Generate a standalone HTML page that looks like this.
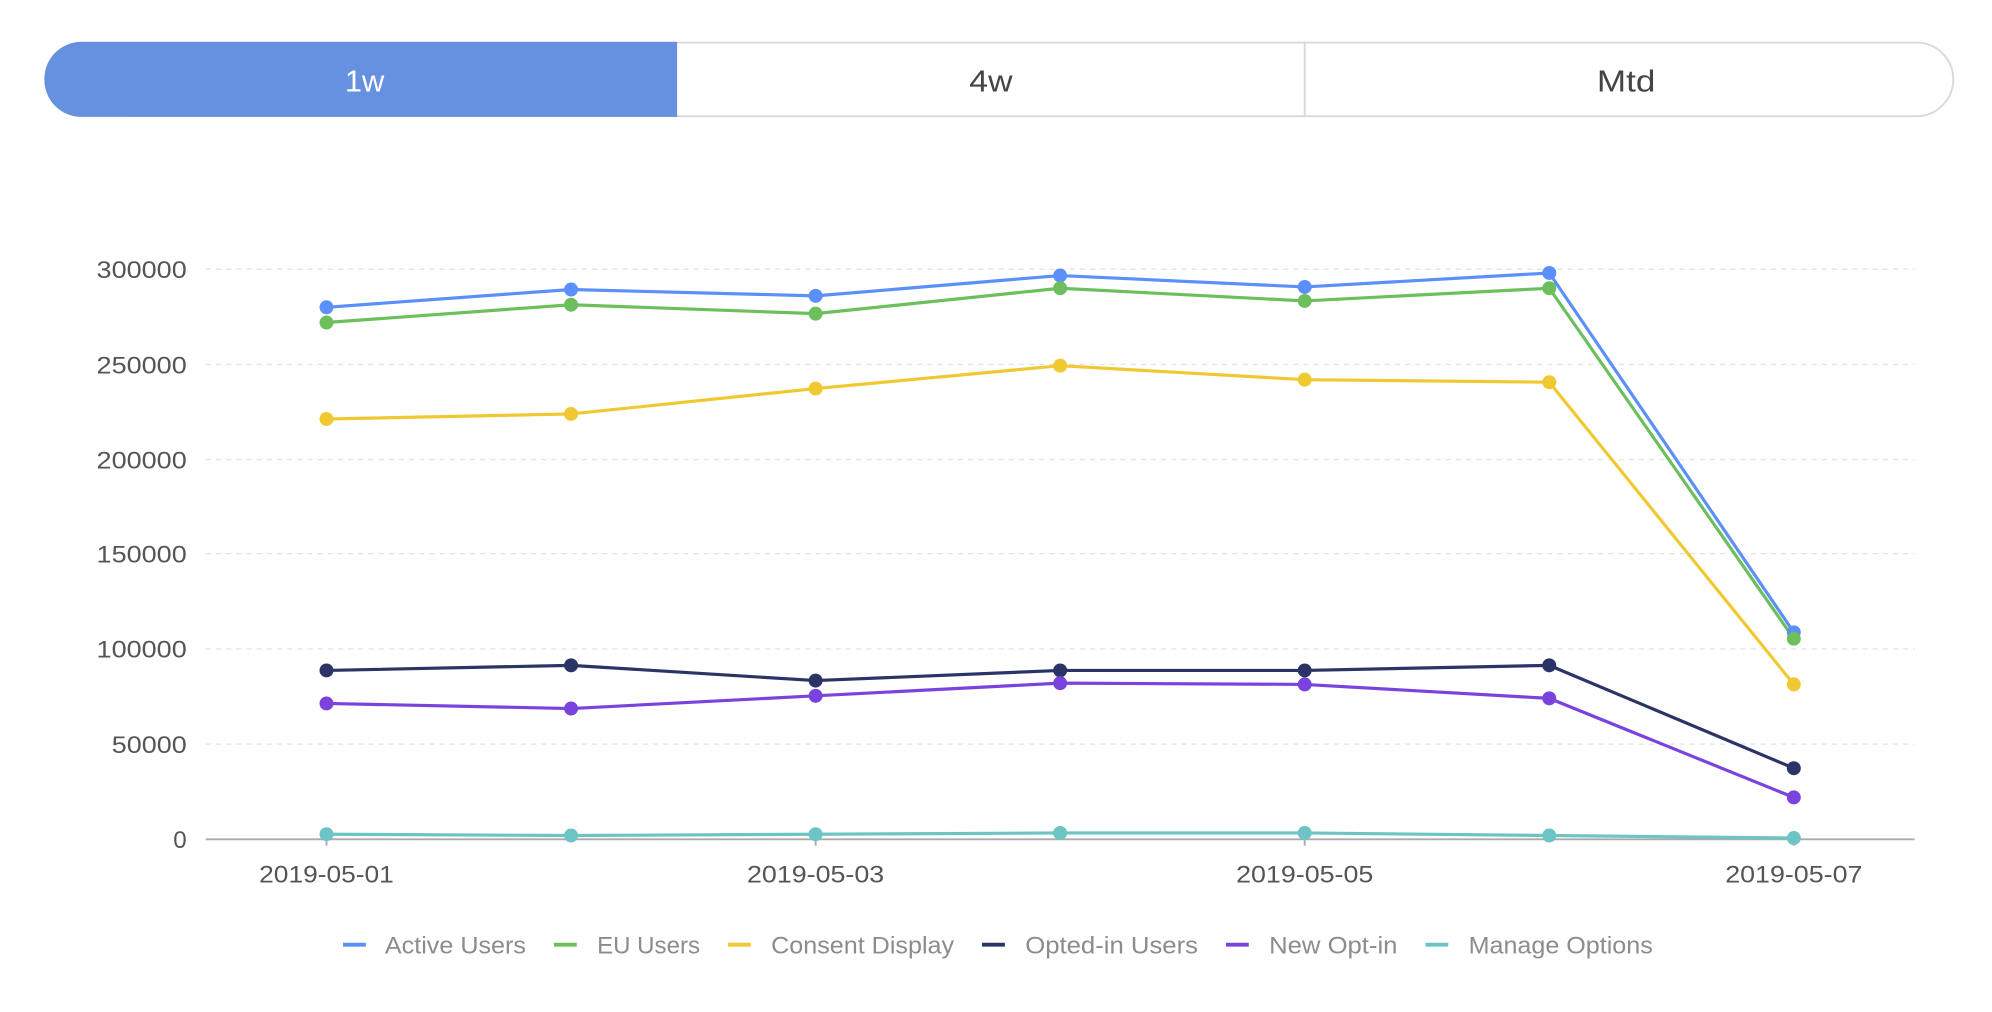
<!DOCTYPE html>
<html><head><meta charset="utf-8"><style>
html,body{margin:0;padding:0;background:#fff;}
svg{display:block;font-family:"Liberation Sans",sans-serif;}
</style></head><body>
<svg width="1992" height="1012" viewBox="0 0 1568 797" preserveAspectRatio="none">
<rect x="0" y="0" width="1568" height="797" fill="#fff"/>
<rect x="35.5" y="33.5" width="1502" height="58" rx="29" fill="#fff" stroke="#d9d9d9" stroke-width="1.5"/>
<path d="M533,33 L64,33 A29,29 0 0 0 35,62 L35,63 A29,29 0 0 0 64,92 L533,92 Z" fill="#6690E0"/>
<line x1="1027" y1="34" x2="1027" y2="91" stroke="#d9d9d9" stroke-width="1.5"/>
<g font-size="24" text-anchor="middle">
<text x="287" y="72" fill="#fff" textLength="31" lengthAdjust="spacingAndGlyphs">1w</text>
<text x="780" y="72" fill="#444" textLength="34" lengthAdjust="spacingAndGlyphs">4w</text>
<text x="1280" y="72" fill="#444" textLength="46" lengthAdjust="spacingAndGlyphs">Mtd</text>
</g>
<g stroke="#e3e3e3" stroke-dasharray="4,4" stroke-width="1">
<line x1="162" y1="212" x2="1507" y2="212"/>
<line x1="162" y1="287" x2="1507" y2="287"/>
<line x1="162" y1="362" x2="1507" y2="362"/>
<line x1="162" y1="436" x2="1507" y2="436"/>
<line x1="162" y1="511" x2="1507" y2="511"/>
<line x1="162" y1="586" x2="1507" y2="586"/>
</g>
<line x1="162" y1="661" x2="1507" y2="661" stroke="#aaa" stroke-width="1.5"/>
<g stroke="#aaa" stroke-width="1.5">
<line x1="257" y1="661" x2="257" y2="666"/><line x1="642" y1="661" x2="642" y2="666"/><line x1="1027" y1="661" x2="1027" y2="666"/><line x1="1412" y1="661" x2="1412" y2="666"/>
</g>
<g font-size="19" fill="#555" text-anchor="end">
<text x="147" y="219" textLength="71" lengthAdjust="spacingAndGlyphs">300000</text>
<text x="147" y="294" textLength="71" lengthAdjust="spacingAndGlyphs">250000</text>
<text x="147" y="369" textLength="71" lengthAdjust="spacingAndGlyphs">200000</text>
<text x="147" y="443" textLength="71" lengthAdjust="spacingAndGlyphs">150000</text>
<text x="147" y="518" textLength="71" lengthAdjust="spacingAndGlyphs">100000</text>
<text x="147" y="593" textLength="59" lengthAdjust="spacingAndGlyphs">50000</text>
<text x="147" y="668">0</text>
</g>
<g font-size="19" fill="#555" text-anchor="middle">
<text x="257" y="695" textLength="106" lengthAdjust="spacingAndGlyphs">2019-05-01</text>
<text x="642" y="695" textLength="108" lengthAdjust="spacingAndGlyphs">2019-05-03</text>
<text x="1027" y="695" textLength="108" lengthAdjust="spacingAndGlyphs">2019-05-05</text>
<text x="1412" y="695" textLength="108" lengthAdjust="spacingAndGlyphs">2019-05-07</text>
</g>
<g fill="none" stroke-width="2.5">
<polyline stroke="#5B8FF9" points="257,242 449.5,228 642,233 834.5,217 1027,226 1219.5,215 1412,498"/>
<polyline stroke="#6CBF5C" points="257,254 449.5,240 642,247 834.5,227 1027,237 1219.5,227 1412,503"/>
<polyline stroke="#F0C932" points="257,330 449.5,326 642,306 834.5,288 1027,299 1219.5,301 1412,539"/>
<polyline stroke="#2A3466" points="257,528 449.5,524 642,536 834.5,528 1027,528 1219.5,524 1412,605"/>
<polyline stroke="#7B43DD" points="257,554 449.5,558 642,548 834.5,538 1027,539 1219.5,550 1412,628"/>
<polyline stroke="#6CC4C4" points="257,657 449.5,658 642,657 834.5,656 1027,656 1219.5,658 1412,660"/>
</g>
<g fill="#5B8FF9"><circle cx="257" cy="242" r="5.5"/><circle cx="449.5" cy="228" r="5.5"/><circle cx="642" cy="233" r="5.5"/><circle cx="834.5" cy="217" r="5.5"/><circle cx="1027" cy="226" r="5.5"/><circle cx="1219.5" cy="215" r="5.5"/><circle cx="1412" cy="498" r="5.5"/></g>
<g fill="#6CBF5C"><circle cx="257" cy="254" r="5.5"/><circle cx="449.5" cy="240" r="5.5"/><circle cx="642" cy="247" r="5.5"/><circle cx="834.5" cy="227" r="5.5"/><circle cx="1027" cy="237" r="5.5"/><circle cx="1219.5" cy="227" r="5.5"/><circle cx="1412" cy="503" r="5.5"/></g>
<g fill="#F0C932"><circle cx="257" cy="330" r="5.5"/><circle cx="449.5" cy="326" r="5.5"/><circle cx="642" cy="306" r="5.5"/><circle cx="834.5" cy="288" r="5.5"/><circle cx="1027" cy="299" r="5.5"/><circle cx="1219.5" cy="301" r="5.5"/><circle cx="1412" cy="539" r="5.5"/></g>
<g fill="#2A3466"><circle cx="257" cy="528" r="5.5"/><circle cx="449.5" cy="524" r="5.5"/><circle cx="642" cy="536" r="5.5"/><circle cx="834.5" cy="528" r="5.5"/><circle cx="1027" cy="528" r="5.5"/><circle cx="1219.5" cy="524" r="5.5"/><circle cx="1412" cy="605" r="5.5"/></g>
<g fill="#7B43DD"><circle cx="257" cy="554" r="5.5"/><circle cx="449.5" cy="558" r="5.5"/><circle cx="642" cy="548" r="5.5"/><circle cx="834.5" cy="538" r="5.5"/><circle cx="1027" cy="539" r="5.5"/><circle cx="1219.5" cy="550" r="5.5"/><circle cx="1412" cy="628" r="5.5"/></g>
<g fill="#6CC4C4"><circle cx="257" cy="657" r="5.5"/><circle cx="449.5" cy="658" r="5.5"/><circle cx="642" cy="657" r="5.5"/><circle cx="834.5" cy="656" r="5.5"/><circle cx="1027" cy="656" r="5.5"/><circle cx="1219.5" cy="658" r="5.5"/><circle cx="1412" cy="660" r="5.5"/></g>
<g stroke-width="3">
<line x1="270" y1="744" x2="288" y2="744" stroke="#5B8FF9"/>
<line x1="436" y1="744" x2="454" y2="744" stroke="#6CBF5C"/>
<line x1="573" y1="744" x2="591" y2="744" stroke="#F0C932"/>
<line x1="773" y1="744" x2="791" y2="744" stroke="#2A3466"/>
<line x1="965" y1="744" x2="983" y2="744" stroke="#7B43DD"/>
<line x1="1122" y1="744" x2="1140" y2="744" stroke="#6CC4C4"/>
</g>
<g font-size="19" fill="#8c8c8c">
<text x="303" y="751" textLength="111" lengthAdjust="spacingAndGlyphs">Active Users</text>
<text x="470" y="751" textLength="81" lengthAdjust="spacingAndGlyphs">EU Users</text>
<text x="607" y="751" textLength="144" lengthAdjust="spacingAndGlyphs">Consent Display</text>
<text x="807" y="751" textLength="136" lengthAdjust="spacingAndGlyphs">Opted-in Users</text>
<text x="999" y="751" textLength="101" lengthAdjust="spacingAndGlyphs">New Opt-in</text>
<text x="1156" y="751" textLength="145" lengthAdjust="spacingAndGlyphs">Manage Options</text>
</g>
</svg>
</body></html>
